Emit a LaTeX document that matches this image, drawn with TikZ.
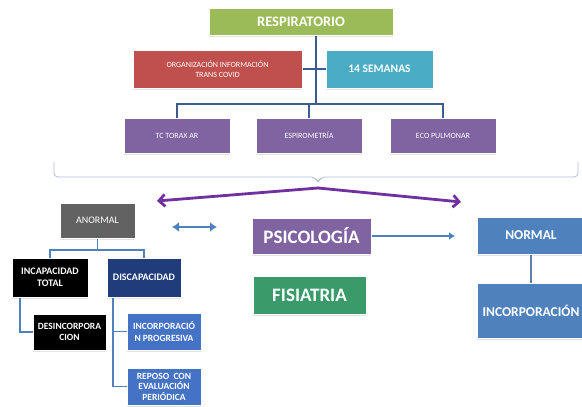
\documentclass[tikz,border=0pt]{standalone}
\usepackage{fontspec}
\setmainfont{Carlito}
\usetikzlibrary{shadows,arrows.meta}

\definecolor{cgreen}{HTML}{9BBB59}
\definecolor{cred}{HTML}{C0504D}
\definecolor{ccyan}{HTML}{4BACC6}
\definecolor{cpurple}{HTML}{8064A2}
\definecolor{cgray}{HTML}{626262}
\definecolor{cnavy}{HTML}{203C7A}
\definecolor{cblue}{HTML}{4472C4}
\definecolor{cnormal}{HTML}{4F81BD}
\definecolor{cfis}{HTML}{3A9A6A}
\definecolor{carrow}{HTML}{7030A0}
\definecolor{cline}{HTML}{3D5C8E}
\definecolor{cbrace}{HTML}{AEBCDA}

\tikzset{
  box/.style={draw=white, line width=1pt, text=white, align=center,
    inner sep=1pt,
    drop shadow={shadow xshift=0.3pt, shadow yshift=-2pt, opacity=0.22}},
  conn/.style={draw=cline, line width=1.6pt},
  sconn/.style={draw=cnormal, line width=1.4pt},
  parrow/.style={draw=carrow, line width=2.8pt, line cap=round,
    -{Straight Barb[length=6pt,width=12pt,line width=2.8pt]}},
  barrow/.style={draw=cnormal, line width=2.8pt},
}

\begin{document}
\begin{tikzpicture}[x=1pt,y=-1pt]
\useasboundingbox (0,0) rectangle (582,407);

% top level
\node[box, fill=cgreen, minimum width=184pt, minimum height=27pt, font=\bfseries\fontsize{14.5}{17}\selectfont] (resp) at (301,21.5) {RESPIRATORIO};
\node[box, fill=cred, minimum width=169pt, minimum height=38pt, font=\fontsize{8}{10.5}\selectfont] (org) at (217.5,69) {ORGANIZACIÓN INFORMACIÓN\\TRANS COVID};
\node[box, fill=ccyan, minimum width=107pt, minimum height=38pt, font=\bfseries\fontsize{11.5}{13}\selectfont] (sem) at (379.5,69) {14 SEMANAS};

% exams
\node[box, fill=cpurple, minimum width=106pt, minimum height=35pt, font=\fontsize{8}{9}\selectfont] (tc) at (177,135.5) {TC TORAX AR};
\node[box, fill=cpurple, minimum width=106pt, minimum height=35pt, font=\fontsize{8}{9}\selectfont] (esp) at (309,135.5) {ESPIROMETRÍA};
\node[box, fill=cpurple, minimum width=106pt, minimum height=35pt, font=\fontsize{8}{9}\selectfont] (eco) at (443,135.5) {ECO PULMONAR};

\coordinate (hub) at (316,104);
\draw[conn] (resp.south -| hub) -- (hub);
\draw[conn, line width=1.2pt] (org.east) -- (sem.west);
\draw[conn, line width=1.3pt] (tc.north) -- (tc.north |- hub) -- (eco.north |- hub) -- (eco.north);
\draw[conn, line width=1.3pt] (esp.north |- hub) -- (esp.north);

% grouping brace under the exams
\coordinate (bl) at (54,162);
\coordinate (br) at (578,162);
\coordinate (tip) at (318,183);
\draw[cbrace, line width=0.8pt, rounded corners=4pt]
  (bl) -- (54,177) -- (315,177) -- (tip) -- (321,177) -- (578,177) -- (br);

% split arrows
\coordinate (split) at (318,188);
\coordinate (lend) at (157,201);
\coordinate (rend) at (461,202);
\draw[parrow] (split) -- (lend);
\draw[parrow] (split) -- (rend);

% left branch
\node[box, fill=cgray, minimum width=75pt, minimum height=35pt, font=\fontsize{10}{11}\selectfont] (anor) at (97.5,220.5) {ANORMAL};
\node[box, fill=black, minimum width=76pt, minimum height=39pt, font=\bfseries\fontsize{10}{12}\selectfont] (incap) at (50,277.5) {INCAPACIDAD\\TOTAL};
\node[box, fill=cnavy, minimum width=74pt, minimum height=39pt, font=\bfseries\fontsize{10}{12}\selectfont] (disc) at (144,277.5) {DISCAPACIDAD};
\node[box, fill=black, minimum width=73pt, minimum height=36pt, font=\bfseries\fontsize{9.5}{11.5}\selectfont] (desinc) at (69.5,332) {DESINCORPORA\\CION};
\node[box, fill=cblue, minimum width=74pt, minimum height=37pt, font=\bfseries\fontsize{9.5}{11.5}\selectfont] (incprog) at (164,331.5) {INCORPORACIÓ\\N PROGRESIVA};
\node[box, fill=cblue, minimum width=74pt, minimum height=37pt, font=\bfseries\fontsize{9.5}{10.5}\selectfont] (repo) at (164,386.5) {REPOSO\ \ CON\\EVALUACIÓN\\PERIÓDICA};

\coordinate (abar) at (97.5,250);
\draw[sconn] (anor.south) -- (abar);
\draw[sconn] (incap.north) -- (incap.north |- abar) -- (disc.north |- abar) -- (disc.north);
\coordinate (ileg) at (20,0);
\draw[sconn] (incap.south -| ileg) |- (desinc.west);
\coordinate (dleg) at (113,0);
\draw[sconn] (disc.south -| dleg) |- (repo.west);
\draw[sconn] (incprog.west) -- (incprog.west -| dleg);

% centre
\node[box, fill=cpurple, minimum width=119pt, minimum height=36pt, font=\bfseries\fontsize{19}{21}\selectfont] (psic) at (311.5,236) {PSICOLOGÍA};
\node[box, fill=cfis, minimum width=113pt, minimum height=38pt, font=\bfseries\fontsize{19}{21}\selectfont] (fis) at (309.5,295) {FISIATRIA};

\coordinate (da) at (172,227);
\coordinate (db) at (217,227);
\draw[barrow, {Latex[length=7pt,width=10pt]}-{Latex[length=7pt,width=10pt]}] (da) -- (db);

\coordinate (pend) at (455,236);
\draw[barrow, line width=2pt, -{Latex[length=6pt,width=8pt]}] (psic.east) -- (pend);

% right branch
\node[box, fill=cnormal, minimum width=108pt, minimum height=37pt, font=\bfseries\fontsize{13.5}{15}\selectfont] (norm) at (531,235.5) {NORMAL};
\node[box, fill=cnormal, minimum width=108pt, minimum height=55pt, font=\bfseries\fontsize{13.5}{15}\selectfont] (incorp) at (531,310.5) {INCORPORACIÓN};
\draw[draw=cnormal!70!gray, line width=1.4pt] (norm.south) -- (incorp.north);

\end{tikzpicture}
\end{document}
